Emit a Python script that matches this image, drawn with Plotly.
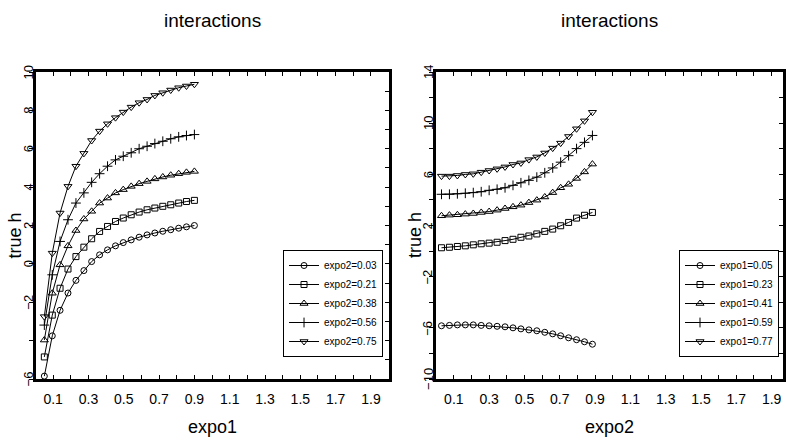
import plotly.graph_objects as go

# ---- data ----
expo1 = [0.05, 0.095, 0.139, 0.184, 0.229, 0.274, 0.318, 0.363, 0.408, 0.453,
         0.497, 0.542, 0.587, 0.632, 0.676, 0.721, 0.766, 0.811, 0.855, 0.9]
expo2 = [0.03, 0.075, 0.12, 0.165, 0.21, 0.255, 0.30, 0.345, 0.39, 0.435,
         0.48, 0.525, 0.57, 0.615, 0.66, 0.705, 0.75, 0.795, 0.84, 0.885]

left_names = ["expo2=0.03", "expo2=0.21", "expo2=0.38", "expo2=0.56", "expo2=0.75"]
left_a = [-5.85, -3.75, -2.42, -1.52, -0.86, -0.35, 0.12, 0.47, 0.73, 0.94,
          1.11, 1.25, 1.39, 1.51, 1.61, 1.70, 1.78, 1.86, 1.93, 2.00]
left_b = [-4.85, -2.67, -1.27, -0.27, 0.38, 0.87, 1.31, 1.69, 1.95, 2.21,
          2.39, 2.56, 2.70, 2.82, 2.91, 3.00, 3.08, 3.17, 3.25, 3.31]
left_c = [-3.97, -1.53, -0.05, 0.94, 1.74, 2.34, 2.74, 3.17, 3.43, 3.70,
          3.87, 4.04, 4.18, 4.30, 4.43, 4.53, 4.62, 4.70, 4.77, 4.82]
left_d = [-3.19, -0.57, 1.17, 2.30, 3.17, 3.70, 4.25, 4.70, 5.09, 5.42,
          5.61, 5.79, 6.00, 6.13, 6.27, 6.39, 6.52, 6.62, 6.69, 6.74]
left_e = [-2.75, 0.56, 2.65, 4.04, 5.09, 5.76, 6.43, 6.92, 7.30, 7.62,
          7.91, 8.17, 8.40, 8.57, 8.78, 8.92, 9.06, 9.18, 9.27, 9.36]

right_names = ["expo1=0.05", "expo1=0.23", "expo1=0.41", "expo1=0.59", "expo1=0.77"]
right_a = [-5.84, -5.81, -5.77, -5.77, -5.77, -5.81, -5.84, -5.88, -5.92, -6.00,
           -6.08, -6.16, -6.23, -6.35, -6.47, -6.62, -6.78, -6.93, -7.09, -7.28]
right_b = [0.26, 0.30, 0.36, 0.41, 0.49, 0.57, 0.62, 0.69, 0.82, 0.92,
           1.08, 1.18, 1.34, 1.54, 1.72, 1.98, 2.24, 2.58, 2.80, 3.02]
right_c = [2.76, 2.81, 2.84, 2.89, 2.94, 3.02, 3.09, 3.20, 3.33, 3.46,
           3.59, 3.79, 3.98, 4.23, 4.57, 4.95, 5.22, 5.68, 6.19, 6.80]
right_d = [4.44, 4.44, 4.48, 4.52, 4.57, 4.64, 4.75, 4.83, 4.95, 5.14,
           5.34, 5.53, 5.78, 6.12, 6.50, 6.95, 7.46, 8.01, 8.50, 9.04]
right_e = [5.86, 5.86, 5.91, 5.99, 6.04, 6.17, 6.30, 6.43, 6.58, 6.77,
           6.89, 7.15, 7.36, 7.67, 8.05, 8.44, 8.96, 9.56, 10.18, 10.85]

symbols = ["circle-open", "square-open", "triangle-up-open", "cross-thin-open", "triangle-down-open"]
sizes = [6, 6, 7, 7, 7]

x_tick_vals = [0.1, 0.2, 0.3, 0.4, 0.5, 0.6, 0.7, 0.8, 0.9, 1.0,
               1.1, 1.2, 1.3, 1.4, 1.5, 1.6, 1.7, 1.8, 1.9, 2.0]
x_tick_text = ["0.1", "", "0.3", "", "0.5", "", "0.7", "", "0.9", "",
               "1.1", "", "1.3", "", "1.5", "", "1.7", "", "1.9", ""]
left_y_vals = [-6, -4, -2, 0, 2, 4, 6, 8, 10]
left_y_text = ["\u22126", "", "\u22122", "0", "2", "4", "6", "8", "10"]
right_y_vals = [-10, -8, -6, -4, -2, 0, 2, 4, 6, 8, 10, 12, 14]
right_y_text = ["\u221210", "", "\u22126", "", "\u22122", "", "2", "", "6", "", "10", "", "14"]

SANS = "Liberation Sans, Arial, sans-serif"

fig = go.Figure()

left_series = [left_a, left_b, left_c, left_d, left_e]
right_series = [right_a, right_b, right_c, right_d, right_e]

for name, ys, sym, sz in zip(left_names, left_series, symbols, sizes):
    fig.add_trace(go.Scatter(
        x=expo1, y=ys, name=name, mode="lines+markers", xaxis="x", yaxis="y",
        line=dict(color="black", width=1),
        marker=dict(symbol=sym, size=sz, color="black", line=dict(color="black", width=1)),
        legend="legend"))

for name, ys, sym, sz in zip(right_names, right_series, symbols, sizes):
    fig.add_trace(go.Scatter(
        x=expo2, y=ys, name=name, mode="lines+markers", xaxis="x2", yaxis="y2",
        line=dict(color="black", width=1),
        marker=dict(symbol=sym, size=sz, color="black", line=dict(color="black", width=1)),
        legend="legend2"))

# invisible helpers so the right-side tick axes are drawn
fig.add_trace(go.Scatter(x=[None], y=[None], xaxis="x", yaxis="y3", showlegend=False, hoverinfo="skip"))
fig.add_trace(go.Scatter(x=[None], y=[None], xaxis="x2", yaxis="y4", showlegend=False, hoverinfo="skip"))

W, H = 786, 445
top_px, bot_px = 72, 379
ydom = [1 - bot_px / H, 1 - top_px / H]
xdom1 = [35.6 / W, 389.6 / W]
xdom2 = [437.3 / W, 785.0 / W]

xcommon = dict(ticks="inside", ticklen=4, tickwidth=1, tickcolor="black",
               tickvals=x_tick_vals, ticktext=x_tick_text,
               tickfont=dict(family=SANS, size=14, color="black"),
               showline=True, linewidth=3, linecolor="black", mirror="ticks",
               showgrid=False, zeroline=False, ticklabelstandoff=5)

ycommon = dict(ticks="outside", ticklen=4, tickwidth=1, tickcolor="black",
               showticklabels=False,
               showline=True, linewidth=3, linecolor="black", mirror=True,
               showgrid=False, zeroline=False)

fig.update_layout(
    width=W, height=H, margin=dict(l=0, r=0, t=0, b=0),
    paper_bgcolor="white", plot_bgcolor="white",
    xaxis=dict(domain=xdom1, range=[0, 2.0], anchor="y", **xcommon),
    xaxis2=dict(domain=xdom2, range=[0, (785.0 - 437.3) / 177.0], anchor="y2", **xcommon),
    yaxis=dict(domain=ydom, range=[-6, 10], anchor="x", tickvals=left_y_vals, **ycommon),
    yaxis3=dict(overlaying="y", side="right", anchor="x", range=[-6, 10],
                ticks="inside", dtick=1, tick0=0, ticklen=4, tickwidth=1, tickcolor="black",
                showticklabels=False, showline=False, showgrid=False, zeroline=False),
    yaxis2=dict(domain=ydom, range=[-10, 14], anchor="x2", tickvals=right_y_vals, **ycommon),
    yaxis4=dict(overlaying="y2", side="right", anchor="x2", range=[-10, 14],
                ticks="inside", dtick=2, tick0=0, ticklen=4, tickwidth=1, tickcolor="black",
                showticklabels=False, showline=False, showgrid=False, zeroline=False),
    legend=dict(x=384 / W, xanchor="right", y=1 - 357 / H, yanchor="bottom",
                bordercolor="black", borderwidth=1, bgcolor="white",
                font=dict(family=SANS, size=10, color="black"),
                itemwidth=30, tracegroupgap=0),
    legend2=dict(x=781 / W, xanchor="right", y=1 - 357 / H, yanchor="bottom",
                 bordercolor="black", borderwidth=1, bgcolor="white",
                 font=dict(family=SANS, size=10, color="black"),
                 itemwidth=30, tracegroupgap=0),
    showlegend=True,
)

ann = []
for cx in [(xdom1[0] + xdom1[1]) / 2, (xdom2[0] + xdom2[1]) / 2]:
    ann.append(dict(text="interactions", x=cx, y=1 - 20 / H, xref="paper", yref="paper",
                    showarrow=False, font=dict(family=SANS, size=19, color="black"),
                    xanchor="center", yanchor="middle"))
for cx, t in [((xdom1[0] + xdom1[1]) / 2, "expo1"), ((xdom2[0] + xdom2[1]) / 2, "expo2")]:
    ann.append(dict(text=t, x=cx, y=1 - 427 / H, xref="paper", yref="paper",
                    showarrow=False, font=dict(family=SANS, size=18, color="black"),
                    xanchor="center", yanchor="middle"))
for px in [15.5, 416]:
    ann.append(dict(text="true h", x=px / W, y=1 - 235 / H, xref="paper", yref="paper",
                    showarrow=False, textangle=-90,
                    font=dict(family=SANS, size=18, color="black"),
                    xanchor="center", yanchor="middle"))
# rotated y tick labels
for v, t in zip(left_y_vals, left_y_text):
    if t:
        ann.append(dict(text=t, x=28.5 / W, y=v, xref="paper", yref="y", showarrow=False,
                        textangle=-90, font=dict(family=SANS, size=13, color="black"),
                        xanchor="center", yanchor="middle"))
for v, t in zip(right_y_vals, right_y_text):
    if t:
        ann.append(dict(text=t, x=429 / W, y=v, xref="paper", yref="y2", showarrow=False,
                        textangle=-90, font=dict(family=SANS, size=13, color="black"),
                        xanchor="center", yanchor="middle"))
fig.update_layout(annotations=ann)

fig.write_html("out.html")
